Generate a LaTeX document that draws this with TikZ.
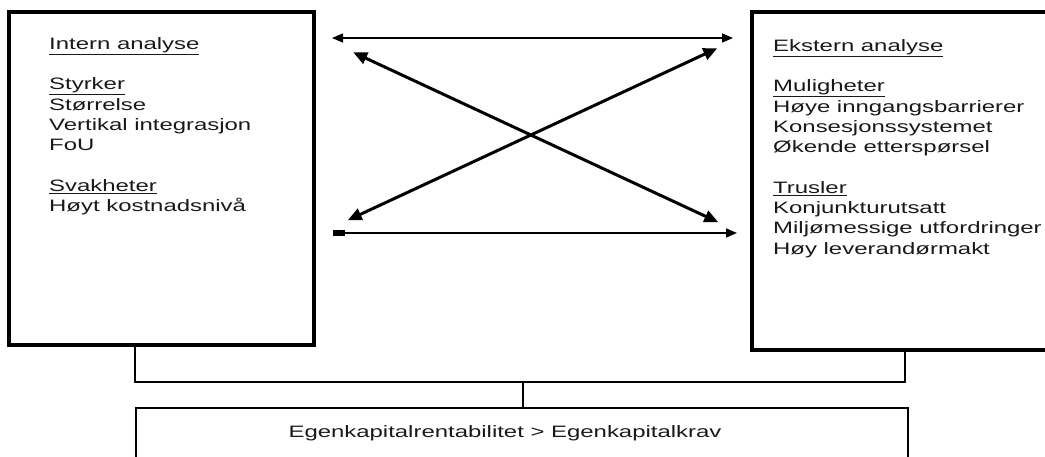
\documentclass[tikz,border=0pt]{standalone}
\usepackage{fontspec}
\setmainfont[FakeStretch=1.45]{Liberation Sans}
\usetikzlibrary{arrows.meta,positioning,calc}

\begin{document}
\begin{tikzpicture}[
  x=1pt,y=-1pt,
  font=\fontsize{16.5}{20.3}\selectfont,
  >={Triangle[length=11pt,width=9pt]},
  panel/.style={rectangle,draw=black,line width=4pt,inner sep=0pt},
  goal/.style={rectangle,draw=black,line width=1.6pt,inner sep=0pt},
  items/.style={anchor=north west,align=left,inner sep=0pt,text=black!90},
  link/.style={line width=1.6pt,black},
  arr/.style={<->,line width=1.4pt,black},
  cross/.style={<->,line width=3pt,black,>={Triangle[length=14pt,width=12pt]}}
]
\path[use as bounding box,clip] (0,0) rectangle (1045,457);

% Analysis boxes
\node[panel,minimum width=305pt,minimum height=333pt] (intern) at (161.5,178.5) {};
\node[panel,minimum width=310pt,minimum height=338pt] (ekstern) at (907,181) {};
\node[goal,minimum width=772pt,minimum height=80pt] (result) at (522,448) {};

% Box texts
\node[items] (internlist) at (49,37) {\underline{Intern analyse}\\[20.3pt]
  \underline{Styrker}\\ Størrelse\\ Vertikal integrasjon\\ FoU\\[20.3pt]
  \underline{Svakheter}\\ Høyt kostnadsnivå};
\node[items] (eksternlist) at (773,39) {\underline{Ekstern analyse}\\[20.3pt]
  \underline{Muligheter}\\ Høye inngangsbarrierer\\ Konsesjonssystemet\\ Økende etterspørsel\\[20.3pt]
  \underline{Trusler}\\ Konjunkturutsatt\\ Miljømessige utfordringer\\ Høy leverandørmakt};
\node[anchor=base,inner sep=0pt,text=black!90] (restext) at (505,437) {Egenkapitalrentabilitet > Egenkapitalkrav};

% Arrows between boxes
\draw[arr,shorten <=16pt,shorten >=17pt] ($(intern.north east)+(0,28)$) -- ($(ekstern.north west)+(0,28)$);
\draw[link,{Rectangle[length=12pt,width=6pt]}->,shorten <=17pt,shorten >=13pt] ($(intern.north east)+(0,223)$) -- ($(ekstern.north west)+(0,223)$);
\draw[cross,shorten <=41pt,shorten >=35pt] ($(intern.north east)+(0,25)$) -- ($(ekstern.north west)+(0,227)$);
\draw[cross,shorten <=36pt,shorten >=35pt] ($(ekstern.north west)+(0,23)$) -- ($(intern.north east)+(0,225)$);

% Bracket to result
\coordinate (bus) at (523,382);
\draw[link] (intern.south -| result.west) |- (bus) -| ([xshift=-4pt]ekstern.south -| result.east);
\draw[link] (bus) -- (result.north -| bus);

\end{tikzpicture}
\end{document}
